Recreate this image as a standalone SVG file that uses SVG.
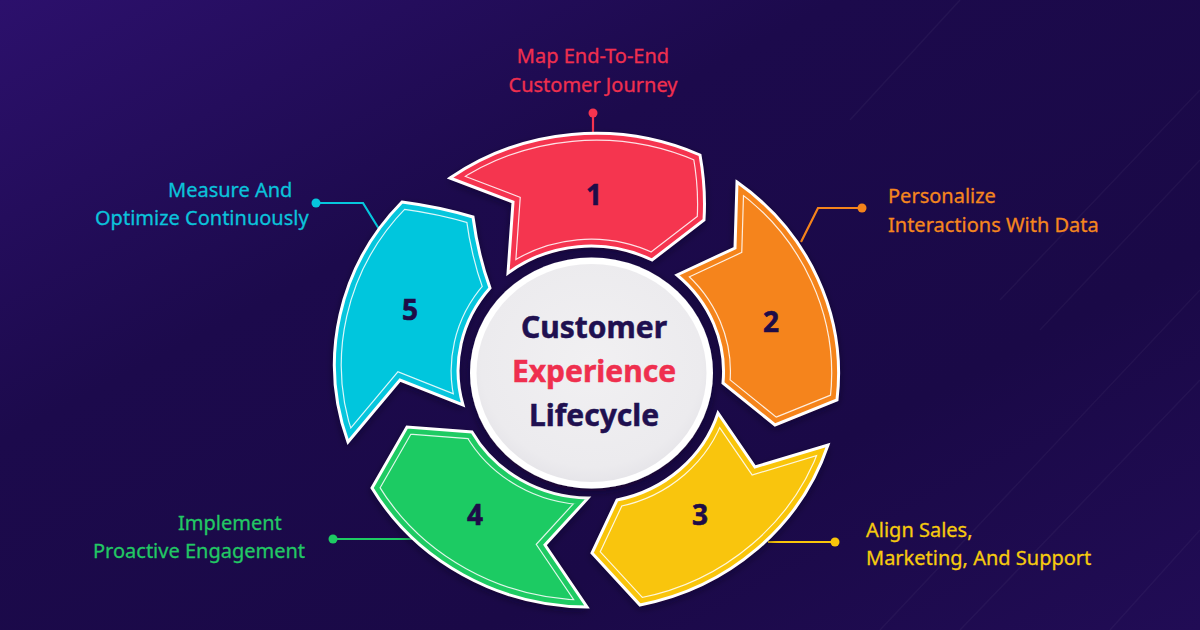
<svg xmlns="http://www.w3.org/2000/svg" xmlns:xlink="http://www.w3.org/1999/xlink" width="1200" height="630" viewBox="0 0 1200 630">
  <defs>
    <linearGradient id="bg" x1="0" y1="0" x2="1" y2="1">
      <stop offset="0" stop-color="#2C106C"/>
      <stop offset="0.35" stop-color="#1C0A4C"/>
      <stop offset="0.7" stop-color="#1A0947"/>
      <stop offset="1" stop-color="#210C55"/>
    </linearGradient>
    <radialGradient id="disc" cx="0.5" cy="0.45" r="0.6">
      <stop offset="0" stop-color="#F1F0F2"/>
      <stop offset="0.8" stop-color="#ECEBEE"/>
      <stop offset="1" stop-color="#E2E1E6"/>
    </radialGradient>
    <path id="s1" d="M450,178 A250,238 0 0 1 700,155 Q706,188 704,220 L652,260 A135,128 0 0 0 508,273 L513,202 Z"/>
    <path id="s2" d="M737,182 A250,238 0 0 1 837,400 L775,425 L723,383 A135,128 0 0 0 677,275 L735,248 Z"/>
    <path id="s3" d="M828,445 A250,238 0 0 1 640,605 L592,553 L617,500 A135,128 0 0 0 718,413 L755,467 Z"/>
    <path id="s4" d="M587,607 A250,238 0 0 1 372,488 L407,427 L472,432 A135,128 0 0 0 588,498 L545,545 Z"/>
    <path id="s5" d="M348,442 A250,238 0 0 1 402,202 Q440,207 473,217 Q478,255 490,288 A135,128 0 0 0 463,405 L400,380 Z"/>
    <clipPath id="c1"><use xlink:href="#s1"/></clipPath>
    <clipPath id="c2"><use xlink:href="#s2"/></clipPath>
    <clipPath id="c3"><use xlink:href="#s3"/></clipPath>
    <clipPath id="c4"><use xlink:href="#s4"/></clipPath>
    <clipPath id="c5"><use xlink:href="#s5"/></clipPath>
    <filter id="sh" x="-20%" y="-20%" width="140%" height="140%">
      <feDropShadow dx="0" dy="3" stdDeviation="4" flood-color="#0A0320" flood-opacity="0.6"/>
    </filter>
    <style>
      .inline { fill: none; stroke: #FFFFFF; stroke-width: 15; stroke-opacity: 0.85; stroke-linejoin: miter; }
      .band { fill: none; stroke-width: 12.6; stroke-linejoin: miter; }
      .edge { fill: none; stroke: #FFFFFF; stroke-width: 3; stroke-linejoin: miter; }
      .num { font-family: "Noto Sans", "Open Sans", sans-serif; font-weight: 700; font-size: 28px; fill: #1E0C48; stroke: #1E0C48; stroke-width: 0.6; text-anchor: middle; }
      .lbl { font-family: "Noto Sans", "Open Sans", sans-serif; font-size: 20px; stroke-width: 0.3; }
      .ctr { font-family: "Noto Sans", "Open Sans", sans-serif; font-weight: 700; font-size: 30px; stroke-width: 0.5; text-anchor: middle; }
      .conn { fill: none; stroke-width: 2.2; }
    </style>
  </defs>

  <rect width="1200" height="630" fill="url(#bg)"/>
  <g stroke="#FFFFFF" stroke-opacity="0.04" stroke-width="1.5">
    <line x1="880" y1="630" x2="1200" y2="290"/>
    <line x1="960" y1="630" x2="1200" y2="380"/>
    <line x1="1000" y1="300" x2="1200" y2="90"/>
    <line x1="1040" y1="330" x2="1200" y2="160"/>
    <line x1="1110" y1="630" x2="1200" y2="530"/>
    <line x1="850" y1="120" x2="960" y2="0"/>
  </g>

  <g id="connectors">
    <line class="conn" x1="593" y1="113" x2="593" y2="133" stroke="#F5344F"/>
    <circle cx="593" cy="113" r="4.5" fill="#F5344F"/>
    <polyline class="conn" points="862,208 818,208 801,242" stroke="#F5841B"/>
    <circle cx="862" cy="208" r="4.5" fill="#F5841B"/>
    <line class="conn" x1="835" y1="542" x2="768" y2="542" stroke="#F9C50A"/>
    <circle cx="835" cy="542" r="4.5" fill="#F9C50A"/>
    <line class="conn" x1="333" y1="539" x2="412" y2="539" stroke="#1ECB63"/>
    <circle cx="333" cy="539" r="4.5" fill="#1ECB63"/>
    <polyline class="conn" points="316,203 363,203 379,229" stroke="#06C6DD"/>
    <circle cx="316" cy="203" r="4.5" fill="#06C6DD"/>
  </g>

  <g id="step1">
    <use xlink:href="#s1" fill="#F5344F" filter="url(#sh)"/>
    <g clip-path="url(#c1)"><use xlink:href="#s1" class="inline"/><use xlink:href="#s1" class="band" stroke="#F5344F"/></g>
    <use xlink:href="#s1" class="edge"/>
    <text class="num" x="594" y="205">1</text>
  </g>
  <g id="step2">
    <use xlink:href="#s2" fill="#F5841B" filter="url(#sh)"/>
    <g clip-path="url(#c2)"><use xlink:href="#s2" class="inline"/><use xlink:href="#s2" class="band" stroke="#F5841B"/></g>
    <use xlink:href="#s2" class="edge"/>
    <text class="num" x="771" y="332">2</text>
  </g>
  <g id="step3">
    <use xlink:href="#s3" fill="#F9C50A" filter="url(#sh)"/>
    <g clip-path="url(#c3)"><use xlink:href="#s3" class="inline"/><use xlink:href="#s3" class="band" stroke="#F9C50A"/></g>
    <use xlink:href="#s3" class="edge"/>
    <text class="num" x="700" y="525">3</text>
  </g>
  <g id="step4">
    <use xlink:href="#s4" fill="#1ECB63" filter="url(#sh)"/>
    <g clip-path="url(#c4)"><use xlink:href="#s4" class="inline"/><use xlink:href="#s4" class="band" stroke="#1ECB63"/></g>
    <use xlink:href="#s4" class="edge"/>
    <text class="num" x="475" y="525">4</text>
  </g>
  <g id="step5">
    <use xlink:href="#s5" fill="#06C6DD" filter="url(#sh)"/>
    <g clip-path="url(#c5)"><use xlink:href="#s5" class="inline"/><use xlink:href="#s5" class="band" stroke="#06C6DD"/></g>
    <use xlink:href="#s5" class="edge"/>
    <text class="num" x="410" y="320">5</text>
  </g>

  <g id="center">
    <ellipse cx="591.5" cy="373" rx="121.5" ry="115.5" fill="#FFFFFF" filter="url(#sh)"/>
    <ellipse cx="591.5" cy="373" rx="115" ry="109" fill="url(#disc)"/>
    <text class="ctr" x="594" y="338" fill="#201050" stroke="#201050">Customer</text>
    <text class="ctr" x="594" y="382" fill="#EF2F4E" stroke="#EF2F4E">Experience</text>
    <text class="ctr" x="594" y="426" fill="#201050" stroke="#201050">Lifecycle</text>
  </g>

  <g id="label1" class="lbl" fill="#EF2F4E" stroke="#EF2F4E" text-anchor="middle">
    <text x="593" y="63">Map End-To-End</text>
    <text x="593" y="92">Customer Journey</text>
  </g>
  <g id="label2" class="lbl" fill="#F5861E" stroke="#F5861E">
    <text x="888" y="203">Personalize</text>
    <text x="888" y="232">Interactions With Data</text>
  </g>
  <g id="label3" class="lbl" fill="#F7CB0E" stroke="#F7CB0E">
    <text x="866" y="537">Align Sales,</text>
    <text x="866" y="565">Marketing, And Support</text>
  </g>
  <g id="label4" class="lbl" fill="#22C864" stroke="#22C864">
    <text x="178" y="530">Implement</text>
    <text x="93" y="558">Proactive Engagement</text>
  </g>
  <g id="label5" class="lbl" fill="#0BC3DB" stroke="#0BC3DB">
    <text x="168" y="197">Measure And</text>
    <text x="95" y="225">Optimize Continuously</text>
  </g>
</svg>
